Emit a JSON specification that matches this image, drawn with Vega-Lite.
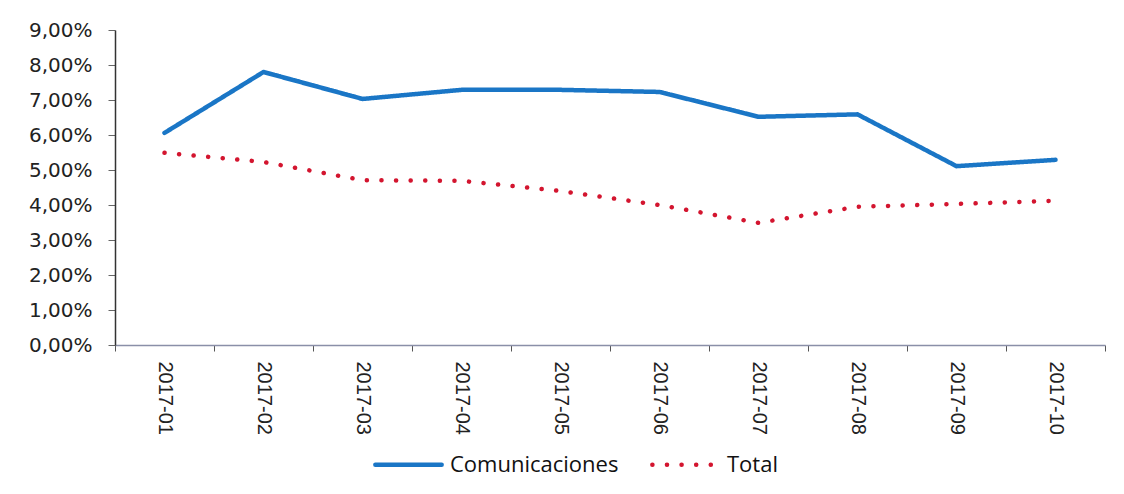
{
  "$schema": "https://vega.github.io/schema/vega-lite/v6.json",
  "autosize": "none",
  "width": 990,
  "height": 315,
  "padding": {"left": 115, "top": 30, "right": 19, "bottom": 149},
  "background": "white",
  "config": {
    "view": {"stroke": null},
    "font": "Open Sans"
  },
  "data": {
    "values": [
      {"mes": "2017-01", "serie": "Comunicaciones", "valor": 0.0606},
      {"mes": "2017-02", "serie": "Comunicaciones", "valor": 0.0780},
      {"mes": "2017-03", "serie": "Comunicaciones", "valor": 0.0703},
      {"mes": "2017-04", "serie": "Comunicaciones", "valor": 0.0729},
      {"mes": "2017-05", "serie": "Comunicaciones", "valor": 0.0729},
      {"mes": "2017-06", "serie": "Comunicaciones", "valor": 0.0723},
      {"mes": "2017-07", "serie": "Comunicaciones", "valor": 0.0652},
      {"mes": "2017-08", "serie": "Comunicaciones", "valor": 0.0659},
      {"mes": "2017-09", "serie": "Comunicaciones", "valor": 0.0511},
      {"mes": "2017-10", "serie": "Comunicaciones", "valor": 0.0529},
      {"mes": "2017-01", "serie": "Total", "valor": 0.0549},
      {"mes": "2017-02", "serie": "Total", "valor": 0.0523},
      {"mes": "2017-03", "serie": "Total", "valor": 0.0471},
      {"mes": "2017-04", "serie": "Total", "valor": 0.0469},
      {"mes": "2017-05", "serie": "Total", "valor": 0.0440},
      {"mes": "2017-06", "serie": "Total", "valor": 0.0400},
      {"mes": "2017-07", "serie": "Total", "valor": 0.0349},
      {"mes": "2017-08", "serie": "Total", "valor": 0.0395},
      {"mes": "2017-09", "serie": "Total", "valor": 0.0403},
      {"mes": "2017-10", "serie": "Total", "valor": 0.0412}
    ]
  },
  "mark": {"type": "line", "strokeWidth": 4.5, "strokeCap": "round", "strokeJoin": "round"},
  "encoding": {
    "x": {
      "field": "mes",
      "type": "ordinal",
      "title": null,
      "scale": {"paddingInner": 0, "paddingOuter": 0},
      "axis": {
        "labelAngle": 90,
        "labelFont": "Liberation Sans",
        "labelFontSize": 20,
        "labelColor": "#222",
        "labelPadding": 10,
        "tickBand": "extent",
        "tickSize": 6,
        "tickColor": "#555",
        "domainColor": "#8a8fa8",
        "domainWidth": 1.5,
        "grid": false
      }
    },
    "y": {
      "field": "valor",
      "type": "quantitative",
      "title": null,
      "scale": {"domain": [0, 0.09], "nice": false},
      "axis": {
        "values": [0, 0.01, 0.02, 0.03, 0.04, 0.05, 0.06, 0.07, 0.08, 0.09],
        "labelExpr": "replace(format(datum.value, '.2%'), '.', ',')",
        "labelFont": "DejaVu Sans",
        "labelFontSize": 20,
        "labelColor": "#222",
        "labelPadding": 16,
        "tickSize": 7,
        "tickColor": "#666",
        "domainColor": "#333",
        "domainWidth": 1.5,
        "grid": false
      }
    },
    "color": {
      "field": "serie",
      "type": "nominal",
      "scale": {"domain": ["Comunicaciones", "Total"], "range": ["#1a76c6", "#d3152f"]},
      "legend": {
        "title": null,
        "orient": "none",
        "direction": "horizontal",
        "legendX": 258,
        "legendY": 399,
        "labelFont": "Open Sans",
        "labelFontSize": 22,
        "labelLimit": 400,
        "labelColor": "#111",
        "labelOffset": 6,
        "columnPadding": 24,
        "symbolType": "stroke",
        "symbolSize": 4400,
        "symbolStrokeWidth": 4.5,
        "encode": {"symbols": {"update": {"strokeCap": {"value": "round"}}}}
      }
    },
    "strokeDash": {
      "field": "serie",
      "type": "nominal",
      "scale": {"domain": ["Comunicaciones", "Total"], "range": [[1, 0], [0.1, 14.5]]},
      "legend": {
        "title": null,
        "orient": "none",
        "direction": "horizontal",
        "legendX": 258,
        "legendY": 399,
        "labelFont": "Open Sans",
        "labelFontSize": 22,
        "labelLimit": 400,
        "labelColor": "#111",
        "labelOffset": 6,
        "columnPadding": 24,
        "symbolType": "stroke",
        "symbolSize": 4400,
        "symbolStrokeWidth": 4.5,
        "encode": {"symbols": {"update": {"strokeCap": {"value": "round"}}}}
      }
    }
  }
}
